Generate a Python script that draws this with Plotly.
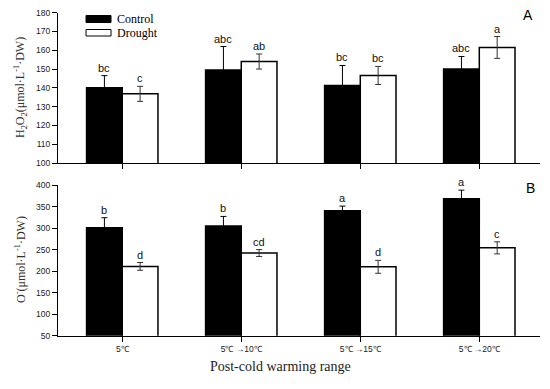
import plotly.graph_objects as go

categories = ["5℃", "5℃ →10℃", "5℃ →15℃", "5℃ →20℃"]
h2o2_control = [140, 149.5, 141.3, 150]
h2o2_control_err = [6.5, 12.5, 10.6, 6.7]
h2o2_drought = [136.8, 154, 146.6, 161.5]
h2o2_drought_err = [4, 4, 4.8, 5.8]
h2o2_control_letters = ["bc", "abc", "bc", "abc"]
h2o2_drought_letters = ["c", "ab", "bc", "a"]

o2_control = [301, 305, 340, 368]
o2_control_err = [23, 22, 11, 20]
o2_drought = [211, 242, 210, 254]
o2_drought_err = [9, 8, 15, 14]
o2_control_letters = ["b", "b", "a", "a"]
o2_drought_letters = ["d", "cd", "d", "c"]

xpos = list(range(len(categories)))
W, H = 550, 389
ml, mr = 58, 10
PW = W - ml - mr

fig = go.Figure()

def add_panel(ctrl, cerr, drt, derr, xa, ya):
    fig.add_trace(go.Bar(x=xpos, y=ctrl, name="Control", marker=dict(color="black", line=dict(color="black", width=1.5)),
                         error_y=dict(type="data", array=cerr, color="#000000", thickness=1, width=3),
                         xaxis=xa, yaxis=ya, showlegend=False, offsetgroup="c"))
    fig.add_trace(go.Bar(x=xpos, y=drt, name="Drought", marker=dict(color="white", line=dict(color="black", width=1.5)),
                         error_y=dict(type="data", array=derr, color="#333333", thickness=1, width=3),
                         xaxis=xa, yaxis=ya, showlegend=False, offsetgroup="d"))

add_panel(h2o2_control, h2o2_control_err, h2o2_drought, h2o2_drought_err, "x", "y")
add_panel(o2_control, o2_control_err, o2_drought, o2_drought_err, "x2", "y2")

def px(pix):
    return (pix - ml) / PW

def py(pix):
    return 1 - pix / H

ann = []
def letter(x, y, t, xr, yr):
    return dict(x=x, y=y, xref=xr, yref=yr, text=t, showarrow=False, xanchor="center",
                yanchor="bottom", yshift=0,
                font=dict(family="Liberation Sans, Arial", size=11, color="#111111"))

for i in xpos:
    ann.append(letter(i - 0.15, h2o2_control[i] + h2o2_control_err[i], h2o2_control_letters[i], "x", "y"))
    ann.append(letter(i + 0.15, h2o2_drought[i] + h2o2_drought_err[i], h2o2_drought_letters[i], "x", "y"))
    ann.append(letter(i - 0.15, o2_control[i] + o2_control_err[i], o2_control_letters[i], "x2", "y2"))
    ann.append(letter(i + 0.15, o2_drought[i] + o2_drought_err[i], o2_drought_letters[i], "x2", "y2"))

serif = "Liberation Serif, Times New Roman, serif"
def pann(x, y, text, size, family, xanchor="center", angle=0, color="black"):
    return dict(x=px(x), y=py(y), xref="paper", yref="paper", text=text, showarrow=False,
                xanchor=xanchor, yanchor="middle", textangle=angle,
                font=dict(family=family, size=size, color=color))

ann += [
    pann(528, 15, "A", 14, "Liberation Sans, Arial"),
    pann(530, 188, "B", 14, "Liberation Sans, Arial"),
    pann(20, 88, "H<sub>2</sub>O<sub>2</sub>(μmol·L<sup>-1</sup>·DW)", 12, serif, angle=-90, color="#333"),
    pann(20, 260, "O<sup>-</sup>(μmol·L<sup>-1</sup>·DW)", 12, serif, angle=-90, color="#333"),
    pann(280, 366, "Post-cold warming range", 14, serif, color="#222"),
    pann(115, 19, "Control", 12, serif, xanchor="left"),
    pann(115, 33, "Drought", 12, serif, xanchor="left"),
]

shapes = [
    dict(type="rect", xref="paper", yref="paper", x0=px(86), x1=px(111), y0=py(22.5), y1=py(15.5),
         fillcolor="black", line=dict(color="black", width=1)),
    dict(type="rect", xref="paper", yref="paper", x0=px(86), x1=px(111), y0=py(36), y1=py(29.5),
         fillcolor="white", line=dict(color="black", width=1)),
]

tickfont = dict(family="Liberation Sans, Arial", size=8.5, color="#222")
axcommon = dict(showline=True, linecolor="black", linewidth=1.2, ticks="outside", ticklen=5,
                tickcolor="black", showgrid=False, zeroline=False)
xr = [-0.54, 3.51]

fig.update_layout(
    width=W, height=H, margin=dict(l=ml, r=mr, t=0, b=0, autoexpand=False),
    plot_bgcolor="white", paper_bgcolor="white",
    barmode="group", bargap=0.4, bargroupgap=0,
    xaxis=dict(domain=[0, 1], anchor="y", range=xr, tickvals=xpos, showticklabels=False, **axcommon),
    yaxis=dict(domain=[py(163), py(12.7)], anchor="x", range=[100, 180], dtick=10, tickfont=tickfont, **axcommon),
    xaxis2=dict(domain=[0, 1], anchor="y2", range=xr, tickvals=xpos, ticktext=categories, tickfont=tickfont, **axcommon),
    yaxis2=dict(domain=[py(335.7), py(185)], anchor="x2", range=[50, 400], dtick=50, tickfont=tickfont, **axcommon),
    annotations=ann, shapes=shapes,
)

fig.write_html("out.html", config={"displayModeBar": False},
               post_script="document.body.style.margin='0';")
